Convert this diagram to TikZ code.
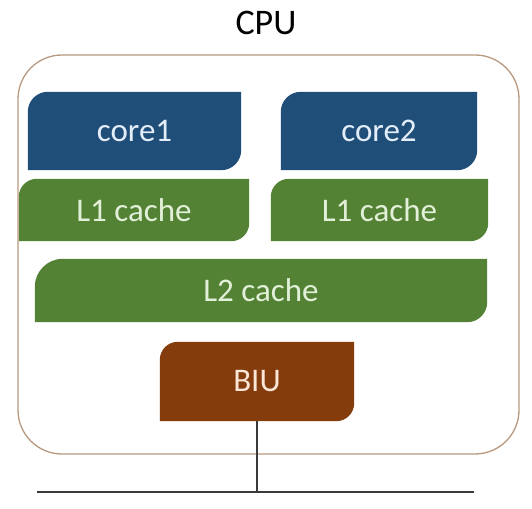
\documentclass[tikz,border=0pt]{standalone}
\usepackage{fontspec}
\setmainfont{Carlito}
\usetikzlibrary{backgrounds}

\definecolor{coreblue}{HTML}{1F4E79}
\definecolor{cachegreen}{HTML}{548235}
\definecolor{biubrown}{HTML}{843C0C}
\definecolor{frametan}{HTML}{B8997F}
\definecolor{wiregray}{HTML}{3A3A3A}
\definecolor{coretext}{HTML}{E4EEF8}
\definecolor{cachetext}{HTML}{E2F0D9}
\definecolor{biutext}{HTML}{FBE5D6}

% fill a block with its top-left and bottom-right corners rounded
\newcommand\diagcornerfill[4]{%
  \fill[#2] (#1.south west)
    -- ([yshift=-#3]#1.north west) arc[start angle=180,end angle=90,radius=#3]
    -- (#1.north east)
    -- ([yshift=#4]#1.south east) arc[start angle=0,end angle=-90,radius=#4]
    -- cycle;}

\tikzset{
  blocktext/.style={inner sep=0pt, font=\fontsize{33}{36}\selectfont},
  corebox/.style={blocktext, text=coretext, minimum height=78pt},
  cachebox/.style={blocktext, text=cachetext, minimum height=62pt},
  biubox/.style={blocktext, text=biutext, minimum height=79pt},
  cpuframe/.style={draw=frametan, line width=1.3pt, rounded corners=44pt},
  wire/.style={draw=wiregray, line width=1.1pt},
}

\begin{document}
\begin{tikzpicture}[x=1pt, y=1pt]
  \useasboundingbox (0,0) rectangle (532,508);

  % title and outer CPU frame
  \node[font=\fontsize{36}{40}\selectfont] (cpu) at (266,485) {CPU};
  \node[cpuframe, minimum width=501pt, minimum height=399pt] (frame) at (268.5,253.5) {};

  % functional blocks
  \node[corebox, minimum width=213pt] (core1) at (134.5,377) {core1};
  \node[corebox, minimum width=196pt] (core2) at (379,377) {core2};
  \node[cachebox, minimum width=230pt] (l1a) at (134,298) {L1 cache};
  \node[cachebox, minimum width=217pt] (l1b) at (379.5,298) {L1 cache};
  \node[cachebox, minimum width=452pt, minimum height=63pt] (l2) at (261,217.5) {L2 cache};
  \node[biubox, minimum width=194pt] (biu) at (257,126.5) {BIU};

  \begin{scope}[on background layer]
    \fill[white] (0,0) rectangle (532,508);
    \diagcornerfill{core1}{coreblue}{20pt}{20pt}
    \diagcornerfill{core2}{coreblue}{20pt}{20pt}
    \diagcornerfill{l1a}{cachegreen}{18pt}{18pt}
    \diagcornerfill{l1b}{cachegreen}{18pt}{18pt}
    \diagcornerfill{l2}{cachegreen}{28pt}{20pt}
    \diagcornerfill{biu}{biubrown}{18pt}{18pt}
  \end{scope}

  % system bus
  \coordinate (busL) at (37,16);
  \coordinate (busR) at (474,16);
  \draw[wire] (busL) -- (busR);
  \draw[wire] (biu.south) -- (biu.south |- busL);
\end{tikzpicture}
\end{document}
